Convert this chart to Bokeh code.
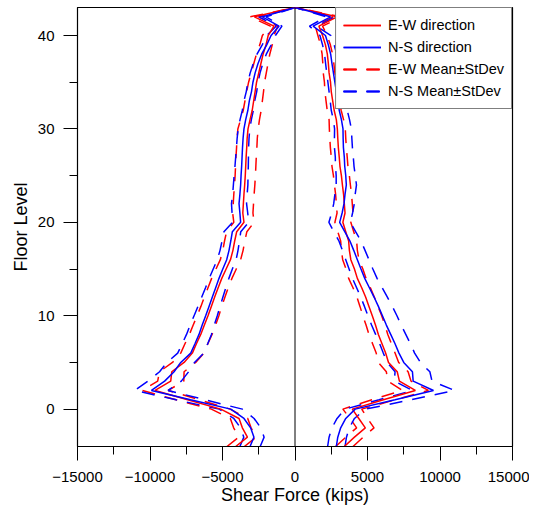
import numpy as np
from bokeh.plotting import figure
from bokeh.models import FixedTicker, Span, Legend, LegendItem, Range1d
from bokeh.embed import file_html
from bokeh.resources import INLINE

# Floor levels (bottom basement -4 to roof 43)
floors = [-4, -3, -2, -1, 0, 1, 2, 3, 4, 5, 6, 7, 8, 9, 10, 11, 12, 13, 14, 15,
          16, 17, 18, 19, 20, 21, 22, 23, 24, 25, 26, 27, 28, 29, 30, 31, 32, 33,
          34, 35, 36, 37, 38, 39, 40, 41, 42, 43]

# Positive shear (right side) - mean values
ew_max_mean = [3400, 4100, 4850, 4400, 3950, 6100, 8300, 7200, 7050, 6450, 6250, 6000,
               5750, 5550, 5330, 5100, 4870, 4600, 4300, 4100, 3850, 3750, 3700, 3500,
               3300, 3450, 3400, 3350, 3270, 3200, 3100, 3050, 2990, 2950, 2920, 2850,
               2700, 2600, 2500, 2450, 2350, 2300, 2230, 2100, 1900, 1650, 2900, 0]
ns_max_mean = [2850, 2950, 3150, 3500, 4150, 6900, 9550, 8150, 8100, 7500, 7170, 6900,
               6600, 6300, 6030, 5750, 5450, 5130, 4810, 4550, 4300, 4050, 3790, 3430,
               3080, 3250, 3380, 3450, 3540, 3500, 3430, 3400, 3340, 3320, 3310, 3200,
               3050, 2950, 2850, 2750, 2650, 2550, 2460, 2300, 2100, 1250, 2450, 0]
# Negative shear (left side) - mean values
ew_min_mean = [-4090, -3280, -3630, -3860, -5120, -7400, -9650, -8570, -8500, -7650, -7080, -6800,
               -6500, -6250, -6000, -5770, -5540, -5300, -5050, -4750, -4450, -4280, -4160, -4020,
               -3520, -3600, -3560, -3520, -3470, -3430, -3400, -3370, -3330, -3300, -3240, -3100,
               -2950, -2850, -2750, -2650, -2500, -2350, -2200, -2000, -1850, -1450, -2800, 0]
ns_min_mean = [-3100, -2830, -3060, -3520, -4430, -7200, -9900, -8990, -8340, -7880, -7190, -6900,
               -6620, -6400, -6160, -5930, -5700, -5470, -5240, -4980, -4710, -4550, -4430, -4320,
               -3750, -3800, -3860, -3800, -3750, -3720, -3680, -3650, -3620, -3580, -3520, -3400,
               -3250, -3150, -3000, -2900, -2750, -2550, -2300, -1950, -1650, -1100, -2250, 0]

# Standard deviations
ew_max_sd = [600, 600, 600, 600, 650, 800, 900, 800, 750, 700, 650, 650,
             650, 650, 650, 620, 600, 600, 600, 580, 560, 550, 550, 550,
             550, 550, 550, 550, 550, 550, 550, 550, 550, 550, 550, 500,
             480, 460, 440, 420, 400, 380, 360, 340, 320, 250, 300, 0]
ns_max_sd = [600, 600, 600, 600, 700, 1100, 1450, 1300, 1200, 1150, 1080, 1060,
             1040, 1020, 1000, 960, 920, 880, 850, 820, 800, 780, 760, 750,
             740, 720, 710, 700, 700, 660, 640, 620, 620, 600, 580, 560,
             550, 520, 500, 480, 460, 440, 420, 400, 380, 250, 300, 0]
ew_min_sd = [600, 600, 600, 600, 650, 800, 900, 900, 850, 800, 800, 790,
             780, 770, 750, 720, 710, 700, 700, 700, 700, 700, 700, 700,
             700, 700, 700, 700, 700, 700, 700, 700, 700, 700, 700, 650,
             620, 600, 580, 550, 520, 490, 460, 430, 400, 250, 300, 0]
ns_min_sd = [700, 700, 700, 700, 800, 1000, 1150, 1150, 1000, 950, 900, 880,
             860, 830, 800, 760, 730, 700, 680, 660, 650, 620, 600, 580,
             560, 540, 520, 500, 500, 480, 460, 440, 420, 410, 400, 390,
             380, 370, 360, 350, 340, 330, 320, 310, 300, 200, 250, 0]

x_ticks = [-15000, -10000, -5000, 0, 5000, 10000, 15000]
x_minor = [-12500, -7500, -2500, 2500, 7500, 12500]
y_ticks = [0, 10, 20, 30, 40]
y_minor = [5, 15, 25, 35]

RED = "#ff0000"
BLUE = "#0000ff"
FONT = "Liberation Sans"
DASH = "13 10"

p = figure(width=529, height=509, output_backend="svg", toolbar_location=None,
           x_range=Range1d(-15000, 15000), y_range=Range1d(-4, 43),
           min_border_left=77, min_border_right=17, min_border_top=7,
           min_border_bottom=63)
p.grid.visible = False
p.outline_line_color = "black"
p.outline_line_width = 1.2
p.background_fill_color = "white"
p.border_fill_color = "white"

for ax, ticks, minor in ((p.xaxis, x_ticks, x_minor), (p.yaxis, y_ticks, y_minor)):
    ax.ticker = FixedTicker(ticks=ticks, minor_ticks=minor)
    ax.major_tick_out = 14
    ax.major_tick_in = 0
    ax.minor_tick_out = 8
    ax.minor_tick_in = 0
    ax.axis_line_color = "black"
    ax.major_tick_line_color = "black"
    ax.minor_tick_line_color = "black"
    ax.major_label_text_font = FONT
    ax.major_label_text_font_size = "15px"
    ax.major_label_text_color = "black"
    ax.axis_label_text_font = FONT
    ax.axis_label_text_font_size = "18px"
    ax.axis_label_text_font_style = "normal"
    ax.axis_label_text_color = "black"

p.xaxis.axis_label = "Shear Force (kips)"
p.yaxis.axis_label = "Floor Level"
p.xaxis.major_label_standoff = 11
p.xaxis.axis_label_standoff = 0
p.yaxis.major_label_standoff = 9
p.yaxis.axis_label_standoff = 4

p.add_layout(Span(location=0, dimension="height", line_color="black", line_width=1))

f = np.array(floors, dtype=float)
series = [
    (ew_max_mean, ew_max_sd, RED),
    (ns_max_mean, ns_max_sd, BLUE),
    (ew_min_mean, ew_min_sd, RED),
    (ns_min_mean, ns_min_sd, BLUE),
]
solid = {RED: [], BLUE: []}
dashed = {RED: [], BLUE: []}
for mean, sd, col in series:
    m = np.array(mean, dtype=float)
    s = np.array(sd, dtype=float)
    for vals in (m + s, m - s):
        r = p.line(vals, f, line_color=col, line_width=1.5, line_dash=DASH)
        dashed[col].append(r)
for mean, sd, col in series:
    r = p.line(np.array(mean, dtype=float), f, line_color=col, line_width=1.5)
    solid[col].append(r)

legend = Legend(items=[
    LegendItem(label="E-W direction", renderers=solid[RED]),
    LegendItem(label="N-S direction", renderers=solid[BLUE]),
    LegendItem(label="E-W Mean\u00b1StDev", renderers=dashed[RED]),
    LegendItem(label="N-S Mean\u00b1StDev", renderers=dashed[BLUE]),
], location="top_right")
legend.label_text_font = FONT
legend.label_text_font_size = "14.5px"
legend.label_text_color = "black"
legend.glyph_width = 38
legend.glyph_height = 20
legend.label_height = 20
legend.spacing = 2
legend.padding = 7
legend.margin = 0
legend.label_standoff = 7
legend.border_line_color = "black"
legend.border_line_width = 1
legend.background_fill_alpha = 1.0
p.add_layout(legend)

open("out.html", "w").write(file_html(p, INLINE))
